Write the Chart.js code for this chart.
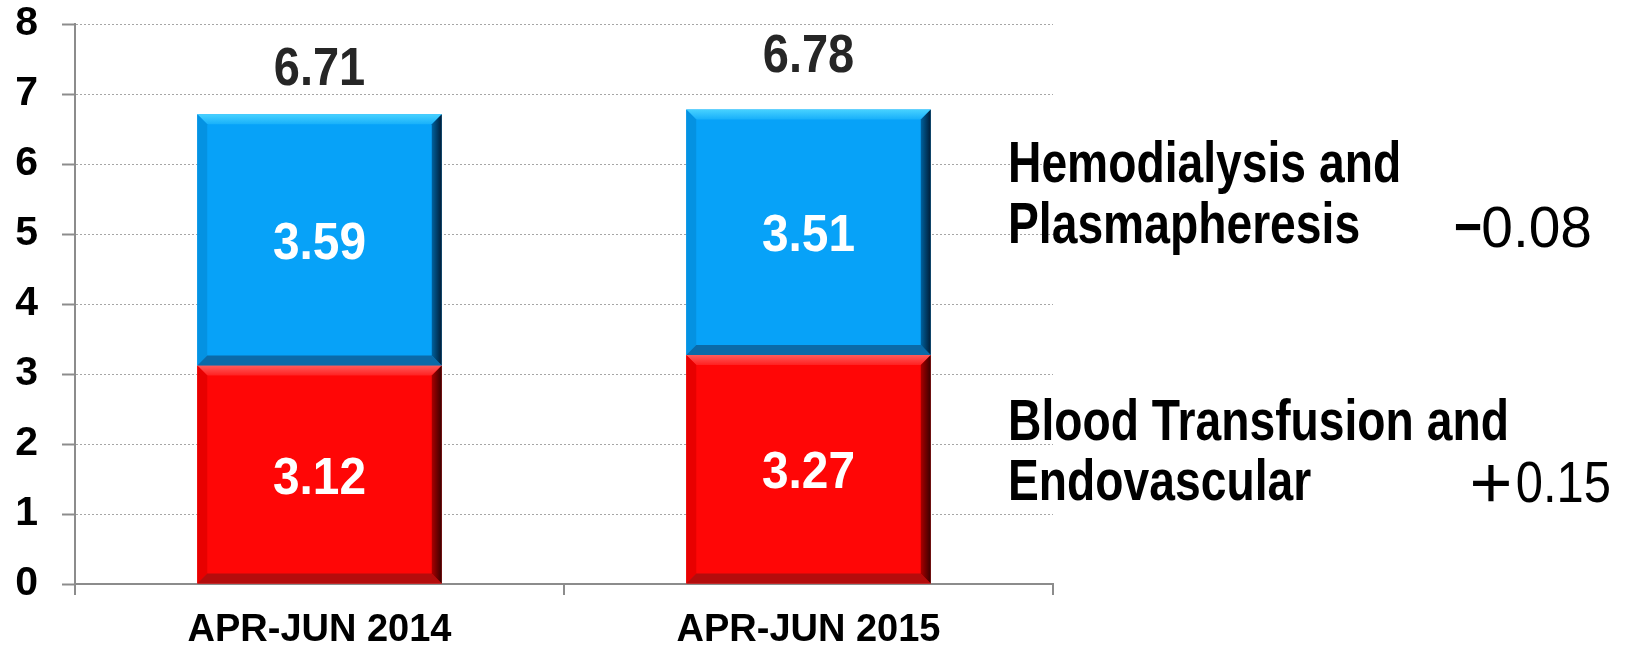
<!DOCTYPE html>
<html>
<head>
<meta charset="utf-8">
<script src="https://cdn.jsdelivr.net/npm/chart.js@4.4.1/dist/chart.umd.min.js"></script>
<style>
  html, body { margin: 0; padding: 0; background: #ffffff; }
  #wrap { width: 1632px; height: 649px; }
</style>
</head>
<body>
<div id="wrap"><canvas id="c" width="1632" height="649"></canvas></div>
<script>
// ---- data ----
const categories = ['APR-JUN 2014', 'APR-JUN 2015'];
const bloodTransfusion = [3.12, 3.27];   // red, bottom segment
const hemodialysis = [3.59, 3.51];       // blue, top segment
const totals = [6.71, 6.78];
const yMin = 0, yMax = 8, yStep = 1;
const hemodialysisLines = ['Hemodialysis and', 'Plasmapheresis'];
const bloodLines = ['Blood Transfusion and', 'Endovascular'];
const hemodialysisChange = '－0.08';
const bloodChange = '＋0.15';

const FONT = "'Liberation Sans', Arial, sans-serif";
const CJK = "'Noto Sans CJK JP', 'Liberation Sans', sans-serif";
const totalLabelGap = [29, 37];

const bevelStyles = [
  { top: ['#ff5a5a', '#ff2020'], left: '#e80000', bottom: '#b40c0c', right: ['#c00000', '#3a0000'] },
  { top: ['#48d2ff', '#18b0fa'], left: '#0492e2', bottom: '#0b6aa8', right: ['#0070b4', '#001c36'] }
];

function drawScaled(ctx, text, font, color, x, baseline, align, sx, sy) {
  ctx.save();
  ctx.font = font;
  ctx.fillStyle = color;
  ctx.textAlign = align;
  ctx.textBaseline = 'alphabetic';
  ctx.translate(x, baseline);
  ctx.scale(sx, sy || 1);
  ctx.fillText(text, 0, 0);
  ctx.restore();
}

function measureInk(ctx, text, font) {
  ctx.save();
  ctx.font = font;
  const m = ctx.measureText(text);
  ctx.restore();
  return { left: m.actualBoundingBoxLeft, right: m.actualBoundingBoxRight,
           ascent: m.actualBoundingBoxAscent, descent: m.actualBoundingBoxDescent,
           w: m.actualBoundingBoxLeft + m.actualBoundingBoxRight,
           h: m.actualBoundingBoxAscent + m.actualBoundingBoxDescent };
}

function poly(ctx, pts, fill) {
  ctx.beginPath();
  ctx.moveTo(pts[0][0], pts[0][1]);
  for (let i = 1; i < pts.length; i++) ctx.lineTo(pts[i][0], pts[i][1]);
  ctx.closePath();
  ctx.fillStyle = fill;
  ctx.fill();
}

const decorPlugin = {
  id: 'decor',
  afterDatasetsDraw(chart) {
    const ctx = chart.ctx;
    const b = 10;
    // bevels
    chart.data.datasets.forEach((ds, di) => {
      const meta = chart.getDatasetMeta(di);
      const st = bevelStyles[di];
      meta.data.forEach((el) => {
        const p = el.getProps(['x', 'y', 'base', 'width'], true);
        const L = p.x - p.width / 2, R = p.x + p.width / 2;
        const T = Math.min(p.y, p.base), B = Math.max(p.y, p.base);
        ctx.save();
        let g = ctx.createLinearGradient(0, T, 0, T + b);
        g.addColorStop(0, st.top[0]); g.addColorStop(1, st.top[1]);
        poly(ctx, [[L, T], [R, T], [R - b, T + b], [L + b, T + b]], g);
        poly(ctx, [[L, T], [L + b, T + b], [L + b, B - b], [L, B]], st.left);
        poly(ctx, [[L, B], [L + b, B - b], [R - b, B - b], [R, B]], st.bottom);
        g = ctx.createLinearGradient(R - b - 2, 0, R, 0);
        g.addColorStop(0, st.right[0]); g.addColorStop(1, st.right[1]);
        poly(ctx, [[R, T], [R, B], [R - b, B - b], [R - b, T + b]], g);
        ctx.restore();
      });
    });
    // values inside segments
    chart.data.datasets.forEach((ds, di) => {
      const meta = chart.getDatasetMeta(di);
      meta.data.forEach((el, i) => {
        const p = el.getProps(['x', 'y', 'base'], true);
        const cy = (p.y + p.base) / 2;
        drawScaled(ctx, ds.data[i].toFixed(2), 'bold 52px ' + FONT, '#ffffff', p.x, cy + 19, 'center', 0.92);
      });
    });
    // totals above stacks
    const topMeta = chart.getDatasetMeta(chart.data.datasets.length - 1);
    topMeta.data.forEach((el, i) => {
      const p = el.getProps(['x', 'y'], true);
      drawScaled(ctx, totals[i].toFixed(2), 'bold 54px ' + FONT, '#262626', p.x, p.y - totalLabelGap[i], 'center', 0.87);
    });
    // right-hand annotations
    const annFont = 'bold 58px ' + FONT;
    const annInk = measureInk(ctx, hemodialysisLines[0], annFont);
    const annSx = 388 / annInk.w;
    const annX = 1008;
    const annLines = [
      [hemodialysisLines[0], 182], [hemodialysisLines[1], 243],
      [bloodLines[0], 440], [bloodLines[1], 500]
    ];
    annLines.forEach(([t, yb]) => drawScaled(ctx, t, annFont, '#000000', annX, yb, 'left', annSx));

    const numFont = '57px ' + FONT;
    const signFont = 'bold 60px ' + CJK;
    const changes = [
      { text: hemodialysisChange, numRight: 1592, numWidth: 107, signCx: 1468, signW: 25, signH: 0, signCy: 227, base: 247 },
      { text: bloodChange, numRight: 1611, numWidth: 92, signCx: 1491, signW: 37, signH: 37, signCy: 483, base: 502 }
    ];
    changes.forEach((c) => {
      const sign = c.text.charAt(0), num = c.text.slice(1);
      const ni = measureInk(ctx, num, numFont);
      drawScaled(ctx, num, numFont, '#000000', c.numRight, c.base, 'right', c.numWidth / ni.w);
      const si = measureInk(ctx, sign, signFont);
      const sx = c.signW / si.w;
      const sy = c.signH ? c.signH / si.h : 1;
      const baseY = c.signCy - ((si.descent - si.ascent) / 2) * sy;
      const inkCx = (si.right - si.left) / 2;
      drawScaled(ctx, sign, signFont, '#000000', c.signCx - inkCx * sx, baseY, 'left', sx, sy);
    });
  }
};

new Chart(document.getElementById('c'), {
  type: 'bar',
  data: {
    labels: categories,
    datasets: [
      { label: 'Blood Transfusion and Endovascular', data: bloodTransfusion, backgroundColor: '#ff0606', borderWidth: 0 },
      { label: 'Hemodialysis and Plasmapheresis', data: hemodialysis, backgroundColor: '#07a2f8', borderWidth: 0 }
    ]
  },
  options: {
    responsive: false,
    animation: false,
    devicePixelRatio: 1,
    layout: { padding: { top: 24, right: 579, bottom: 0, left: 0 } },
    plugins: { legend: { display: false }, tooltip: { enabled: false } },
    datasets: { bar: { barPercentage: 0.5, categoryPercentage: 1.0 } },
    scales: {
      x: {
        stacked: true,
        grid: { drawOnChartArea: false, drawTicks: true, tickLength: 11, color: '#8c8c8c', lineWidth: 2 },
        border: { display: true, color: '#8c8c8c', width: 2 },
        ticks: { color: '#000000', padding: 13, font: { family: FONT, size: 38, weight: 'bold' } },
        afterFit(scale) { scale.height = 65; scale.paddingLeft = 0; scale.paddingRight = 0; }
      },
      y: {
        stacked: true,
        min: yMin, max: yMax,
        ticks: { stepSize: yStep, color: '#000000', padding: 24, font: { family: FONT, size: 41, weight: 'bold' } },
        grid: { color: '#a6a6a6', lineWidth: 1, tickLength: 13, tickColor: '#8c8c8c', tickWidth: 2 },
        border: { display: true, color: '#8c8c8c', width: 2, dash: [2, 2] },
        afterFit(scale) { scale.width = 75; scale.paddingTop = 0; scale.paddingBottom = 0; }
      }
    }
  },
  plugins: [decorPlugin]
});
</script>
</body>
</html>
